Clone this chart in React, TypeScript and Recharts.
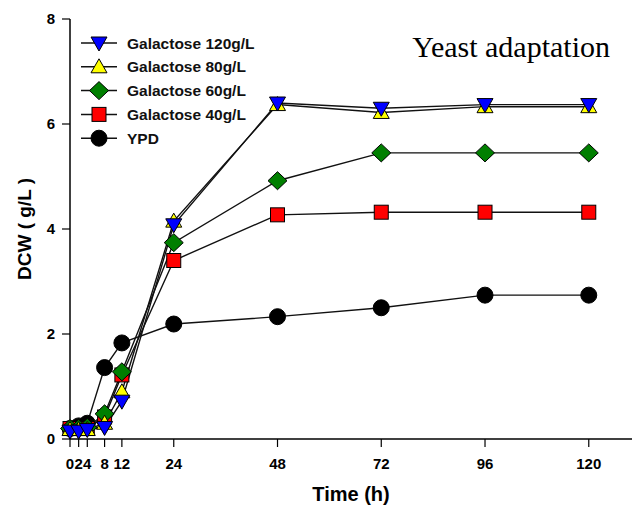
import { LineChart, Line, XAxis, YAxis, Legend } from 'recharts'

// Sampling times (h) and dry cell weight (g/L).
const hours = [0, 2, 4, 8, 12, 24, 48, 72, 96, 120]
const xTicks = [0, 2, 4, 8, 12, 24, 48, 72, 96, 120]
const yTicks = [0, 2, 4, 6, 8]

const gal120 = [0.15, 0.15, 0.18, 0.22, 0.72, 4.08, 6.4, 6.3, 6.37, 6.37]
const gal80 = [0.18, 0.18, 0.18, 0.3, 0.9, 4.15, 6.37, 6.22, 6.33, 6.33]
const gal60 = [0.2, 0.2, 0.22, 0.48, 1.28, 3.74, 4.92, 5.45, 5.45, 5.45]
const gal40 = [0.2, 0.2, 0.2, 0.42, 1.22, 3.4, 4.27, 4.32, 4.32, 4.32]
const ypd = [0.2, 0.25, 0.3, 1.36, 1.83, 2.19, 2.33, 2.5, 2.74, 2.74]

type Shape = 'down' | 'up' | 'diamond' | 'square' | 'circle'

// legend order (top to bottom); plot order is reversed so 120 g/L sits on top
const series: { key: string; name: string; shape: Shape; fill: string }[] = [
  { key: 'gal120', name: 'Galactose 120g/L', shape: 'down', fill: '#0000FF' },
  { key: 'gal80', name: 'Galactose 80g/L', shape: 'up', fill: '#FFFF00' },
  { key: 'gal60', name: 'Galactose 60g/L', shape: 'diamond', fill: '#007F00' },
  { key: 'gal40', name: 'Galactose 40g/L', shape: 'square', fill: '#FF0000' },
  { key: 'ypd', name: 'YPD', shape: 'circle', fill: '#000000' },
]

const data = hours.map((t, i) => ({
  t,
  gal120: gal120[i],
  gal80: gal80[i],
  gal60: gal60[i],
  gal40: gal40[i],
  ypd: ypd[i],
}))

const FONT = '"Liberation Sans", Arial, sans-serif'
const tickStyle = { fill: '#000', fontSize: 15, fontWeight: 700, fontFamily: FONT }

function Marker({ shape, cx, cy, fill }: { shape: Shape; cx: number; cy: number; fill: string }) {
  const stroke = { stroke: '#000', strokeWidth: 1 }
  if (shape === 'circle') return <circle cx={cx} cy={cy} r={8} fill={fill} {...stroke} />
  if (shape === 'square') return <rect x={cx - 7} y={cy - 7} width={14} height={14} fill={fill} {...stroke} />
  if (shape === 'diamond')
    return <polygon points={`${cx},${cy - 9} ${cx + 9.5},${cy} ${cx},${cy + 9} ${cx - 9.5},${cy}`} fill={fill} {...stroke} />
  if (shape === 'up')
    return <polygon points={`${cx},${cy - 8} ${cx + 8},${cy + 6} ${cx - 8},${cy + 6}`} fill={fill} {...stroke} />
  return <polygon points={`${cx - 8},${cy - 6} ${cx + 8},${cy - 6} ${cx},${cy + 8}`} fill={fill} {...stroke} />
}

function renderLegend() {
  return (
    <svg width={200} height={130}>
      {series.map((s, i) => {
        const y = 13 + i * 23.8
        return (
          <g key={s.key}>
            <line x1={3} x2={39} y1={y} y2={y} stroke="#111" strokeWidth={1.5} />
            <Marker shape={s.shape} cx={21} cy={y} fill={s.fill} />
            <text x={49} y={y} dominantBaseline="central" fontFamily={FONT} fontWeight={700} fontSize={15.5} fill="#111">
              {s.name}
            </text>
          </g>
        )
      })}
    </svg>
  )
}

export default function App() {
  return (
    <div style={{ position: 'absolute', left: 0, top: 0, width: 636, height: 508, background: '#fff' }}>
      <LineChart width={636} height={508} data={data} margin={{ top: 19, right: 4, bottom: 29, left: 30 }}>
        <XAxis
          dataKey="t"
          type="number"
          domain={[0, 130]}
          ticks={xTicks}
          interval={0}
          height={40}
          tick={tickStyle}
          tickSize={8}
          tickMargin={11}
          axisLine={{ stroke: '#000', strokeWidth: 1.5 }}
          tickLine={{ stroke: '#000', strokeWidth: 1.2 }}
          label={{
            content: () => (
              <text x={351} y={501} textAnchor="middle" fontFamily={FONT} fontWeight={700} fontSize={20} fill="#000">
                Time (h)
              </text>
            ),
          }}
        />
        <XAxis xAxisId="top" orientation="top" type="number" domain={[0, 130]} height={0} tick={false} tickLine={false}
          axisLine={{ stroke: '#000', strokeWidth: 1.5 }} />
        <YAxis
          type="number"
          domain={[0, 8]}
          ticks={yTicks}
          width={40}
          tick={tickStyle}
          tickSize={8}
          tickMargin={7}
          axisLine={{ stroke: '#000', strokeWidth: 1.5 }}
          tickLine={{ stroke: '#000', strokeWidth: 1.2 }}
          label={{
            content: () => (
              <text x={24} y={229} transform="rotate(-90 24 229)" textAnchor="middle" dominantBaseline="central"
                fontFamily={FONT} fontWeight={700} fontSize={19} fill="#000">
                DCW ( g/L )
              </text>
            ),
          }}
        />
        <YAxis yAxisId="right" orientation="right" width={0} tick={false} tickLine={false}
          axisLine={{ stroke: '#000', strokeWidth: 1.5 }} />
        <Legend
          layout="vertical"
          align="center"
          verticalAlign="middle"
          content={renderLegend}
          wrapperStyle={{ left: 78, top: 30, width: 200, height: 130 }}
        />
        {[...series].reverse().map(s => (
          <Line
            key={s.key}
            dataKey={s.key}
            name={s.name}
            type="linear"
            stroke="#111"
            strokeWidth={1.4}
            isAnimationActive={false}
            dot={(p: any) => <Marker key={`${s.key}-${p.index}`} shape={s.shape} cx={p.cx} cy={p.cy} fill={s.fill} />}
            activeDot={false}
          />
        ))}
      </LineChart>
      <svg width={636} height={80} style={{ position: 'absolute', left: 0, top: 0, pointerEvents: 'none' }}>
        <text x={610} y={57} textAnchor="end" fontFamily='"Liberation Serif", "Times New Roman", serif' fontSize={30} fill="#000">
          Yeast adaptation
        </text>
      </svg>
    </div>
  )
}
